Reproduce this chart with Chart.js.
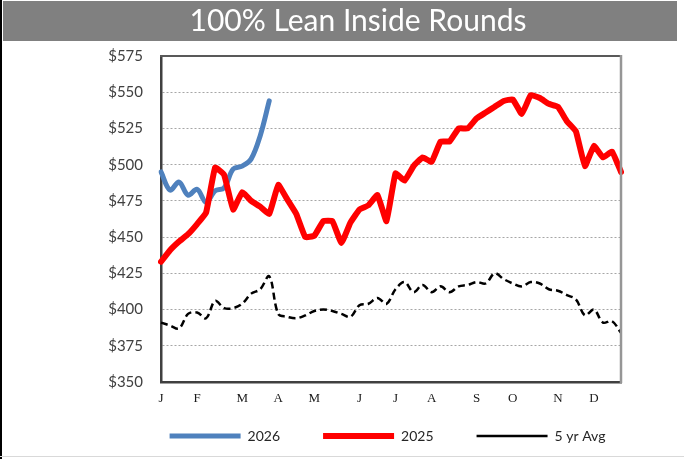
<!DOCTYPE html>
<html><head><meta charset="utf-8">
<script src="https://cdn.jsdelivr.net/npm/chart.js@4.4.1/dist/chart.umd.min.js"></script>
<style>html,body{margin:0;padding:0;background:#fff;}#wrap{width:684px;height:459px;}</style>
</head><body><div id="wrap"><canvas id="c" width="684" height="459"></canvas></div>
<script>
// Weekly categories; month initials at the week where each month starts
const weekLabels = ['J','','','','F','','','','','M','','','','A','','','','M','','','','','J','','','','J','','','','A','','','','','S','','','','O','','','','','N','','','','D','','',''];
const y2026 = [495, 482.5, 488, 479, 483, 474, 482, 484, 497, 499, 504, 520, 544];
const y2025 = [433, 441, 447, 452, 459, 467, 498, 493, 469, 481, 475, 471, 466, 486, 476, 466, 450, 451, 461, 461, 446, 460, 469, 472, 479, 461, 494, 489, 499, 505, 502, 516, 516, 525, 525, 532, 536, 540, 544, 545, 535, 548, 546, 542, 540, 530, 523, 499, 513, 505, 509, 495];
const avg5 = [391, 389, 387, 397, 398, 394, 406, 401, 401, 404, 411, 414, 423, 397, 395, 394, 396, 399, 400, 399, 397, 395, 403, 404, 408, 404, 414, 419, 412, 417, 412, 416, 412, 416, 417, 419, 418, 425, 421, 418, 416, 419, 418, 414, 413, 410, 407, 396, 400, 391, 392, 384];
const seriesNames = ['2026', '2025', '5 yr Avg'];
const titleText = '100% Lean Inside Rounds';
const yMin = 350, yMax = 575, yStep = 25;

const framePlugin = {
  id: 'frame',
  afterLayout(chart) {
    // place the legend row under the plot like the original
    const lg = chart.legend;
    if (!lg) return;
    const w = lg.right - lg.left;
    const pad = lg.options.labels.padding, fs = lg.options.labels.font.size;
    lg.left = 387.5 - w / 2; lg.right = lg.left + w;
    lg.top = 436 - pad - fs / 2;
    lg.height = pad + fs + 12;
    lg.bottom = lg.top + lg.height;
  },
  beforeDraw(chart) {
    const ctx = chart.ctx;
    ctx.save();
    ctx.fillStyle = '#ffffff';
    ctx.fillRect(0, 0, chart.width, chart.height);
    ctx.fillStyle = '#808080';
    ctx.fillRect(3, 1, 674, 40);
    ctx.fillStyle = '#000000';
    ctx.fillRect(0, 0, 2, chart.height);
    ctx.fillStyle = '#d9d9d9';
    ctx.fillRect(0, 456, chart.width, 1);
    ctx.restore();
  },
  afterDatasetsDraw(chart) {
    const a = chart.chartArea, ctx = chart.ctx;
    ctx.save();
    ctx.strokeStyle = '#595959';
    ctx.lineWidth = 2;
    ctx.beginPath(); ctx.moveTo(a.left - 1, a.top); ctx.lineTo(a.right, a.top); ctx.stroke();
    ctx.strokeStyle = '#969696';
    ctx.lineWidth = 2.5;
    ctx.beginPath(); ctx.moveTo(a.right, a.top - 1); ctx.lineTo(a.right, a.bottom + 1); ctx.stroke();
    ctx.restore();
  }
};

new Chart(document.getElementById('c'), {
  type: 'line',
  data: {
    labels: weekLabels,
    datasets: [
      { label: seriesNames[0], data: y2026, borderColor: '#4f81bd', backgroundColor: '#4f81bd', borderWidth: 5, tension: 0.35, borderCapStyle: 'round', borderJoinStyle: 'round', pointRadius: 0, order: 2 },
      { label: seriesNames[1], data: y2025, borderColor: '#ff0000', backgroundColor: '#ff0000', borderWidth: 6, tension: 0.1, borderCapStyle: 'round', borderJoinStyle: 'round', pointRadius: 0, order: 1 },
      { label: seriesNames[2], data: avg5, borderColor: '#000000', backgroundColor: '#000000', borderWidth: 2.5, borderDash: [7, 4], tension: 0.35, borderCapStyle: 'butt', pointRadius: 0, order: 3 }
    ]
  },
  options: {
    responsive: false,
    animation: false,
    devicePixelRatio: 1,
    layout: { padding: { left: 95, right: 63, top: 0, bottom: 12 } },
    plugins: {
      tooltip: { enabled: false },
      title: {
        display: true, text: titleText, color: '#ffffff',
        font: { family: 'Lato, "Open Sans", sans-serif', size: 30, weight: 'normal', lineHeight: 1.2 },
        padding: { top: 3, bottom: 17 }
      },
      legend: {
        position: 'bottom', fullSize: true, maxHeight: 40,
        labels: {
          usePointStyle: true, pointStyle: 'line', pointStyleWidth: 71, padding: 43,
          color: '#262626', font: { family: 'Lato, "Open Sans", sans-serif', size: 14 },
          sort: (a, b) => a.datasetIndex - b.datasetIndex
        }
      }
    },
    scales: {
      x: {
        type: 'category', offset: false,
        grid: { display: false, drawTicks: false },
        border: { display: true, color: '#404040', width: 2.5 },
        ticks: { autoSkip: false, maxRotation: 0, minRotation: 0, padding: 9, color: '#1a1a1a', font: { family: '"Liberation Serif", serif', size: 13 } },
        afterFit(s) { s.height = 25; }
      },
      y: {
        min: yMin, max: yMax,
        grid: { color: '#a6a6a6', lineWidth: 1, drawTicks: false },
        border: { display: true, color: '#404040', width: 2.5, dash: [2, 2] },
        ticks: { stepSize: yStep, padding: 18, color: '#404040', font: { family: 'Lato, "Open Sans", sans-serif', size: 15 }, callback: v => '$' + v },
        afterFit(s) { s.width = 66; }
      }
    }
  },
  plugins: [framePlugin]
});
</script>
</body></html>
